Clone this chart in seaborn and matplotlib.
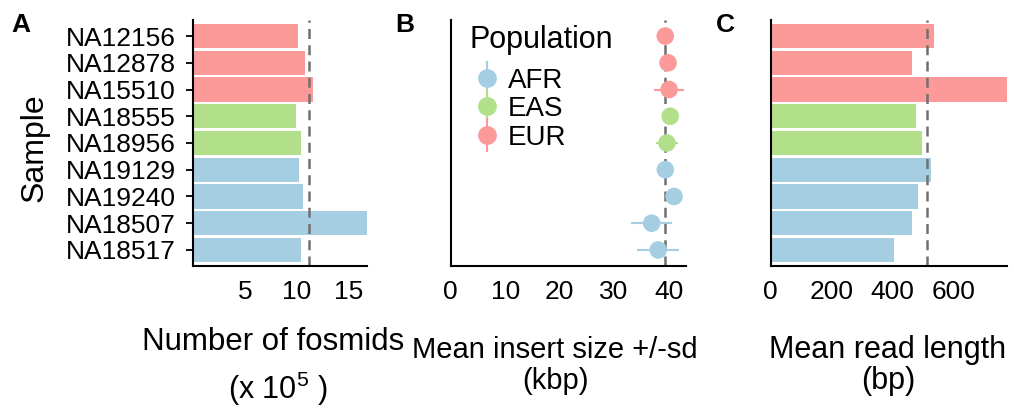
import numpy as np
import pandas as pd
import matplotlib
matplotlib.use("Agg")
import matplotlib.pyplot as plt
from matplotlib.lines import Line2D
import seaborn as sns

# ---- data -------------------------------------------------------------
samples = ["NA12156", "NA12878", "NA15510", "NA18555", "NA18956",
           "NA19129", "NA19240", "NA18507", "NA18517"]
population = ["EUR", "EUR", "EUR", "EAS", "EAS", "AFR", "AFR", "AFR", "AFR"]
fosmids_1e5 = [10.1, 10.8, 11.5, 9.9, 10.4, 10.25, 10.6, 16.7, 10.4]
insert_mean_kbp = [39.4, 39.9, 40.1, 40.3, 39.7, 39.4, 41.0, 36.9, 38.1]
insert_sd_kbp = [0.9, 0.8, 2.7, 1.0, 2.0, 0.9, 0.9, 3.8, 3.9]
read_len_bp = [536, 462, 774, 476, 495, 526, 482, 463, 404]

pop_order = ["AFR", "EAS", "EUR"]
pop_colors = {"AFR": "#A6CEE3", "EAS": "#B2DF8A", "EUR": "#FB9A99"}

df = pd.DataFrame({
    "Sample": samples,
    "Population": population,
    "fosmids": fosmids_1e5,
    "insert": insert_mean_kbp,
    "sd": insert_sd_kbp,
    "readlen": read_len_bp,
})
df["Sample"] = pd.Categorical(df["Sample"], categories=samples, ordered=True)

# ---- style ------------------------------------------------------------
sns.set_style("white")
plt.rcParams["font.family"] = ["Liberation Sans", "DejaVu Sans"]
plt.rcParams["mathtext.fontset"] = "custom"
plt.rcParams["mathtext.rm"] = "Liberation Sans"
plt.rcParams["mathtext.it"] = "Liberation Sans:italic"
plt.rcParams["text.color"] = "black"
plt.rcParams["axes.labelcolor"] = "black"

TICK_FS = 19
W, H = 1014, 408
fig = plt.figure(figsize=(W / 100, H / 100), dpi=100)


def px_axes(x0, x1, y0, y1):
    return fig.add_axes([x0 / W, 1 - y1 / H, (x1 - x0) / W, (y1 - y0) / H])


axA = px_axes(192.7, 366.7, 20, 266)
axB = px_axes(450.7, 686, 20, 266)
axC = px_axes(770.7, 1006.7, 20, 266)

n = len(samples)
DASH = dict(color="#707070", lw=1.8, ls=(0, (4, 2.5)))


def style_axes(ax):
    for s in ["top", "right"]:
        ax.spines[s].set_visible(False)
    for s in ["left", "bottom"]:
        ax.spines[s].set_linewidth(1.5)
        ax.spines[s].set_color("black")
    ax.tick_params(axis="x", direction="out", length=5, width=1.3,
                   labelsize=TICK_FS, pad=5, colors="black")
    ax.set_ylim(n - 1 + 0.6, -0.6)
    ax.set_xlabel("")
    ax.set_ylabel("")


# A: number of fosmids
sns.barplot(data=df, y="Sample", x="fosmids", hue="Population",
            palette=pop_colors, dodge=False, width=0.9, legend=False,
            saturation=1, ax=axA, linewidth=0)
axA.axvline(np.mean(fosmids_1e5), **DASH)
axA.set_xlim(0, max(fosmids_1e5))
axA.set_xticks([5, 10, 15])
style_axes(axA)
axA.tick_params(axis="y", direction="out", length=5, width=1.3,
                labelsize=TICK_FS, pad=7, colors="black", left=True)

# B: mean insert size +/- sd
y_pos = np.arange(n)
for yi, m, s, p in zip(y_pos, insert_mean_kbp, insert_sd_kbp, population):
    axB.hlines(yi, m - s, m + s, color=pop_colors[p], lw=1.5, zorder=2)
sns.scatterplot(data=df, x="insert", y="Sample", hue="Population",
                palette=pop_colors, s=160, linewidth=0, legend=False,
                ax=axB, zorder=3)
axB.axvline(np.mean(insert_mean_kbp), zorder=1, **DASH)
axB.set_xlim(0, 43.2)
axB.set_xticks([0, 10, 20, 30, 40])
style_axes(axB)
axB.set_yticks([])

handles = []
for p in pop_order:
    vline = Line2D([], [], color=pop_colors[p], marker="|", markersize=24,
                   markeredgewidth=1.5, linestyle="none")
    dot = Line2D([], [], color=pop_colors[p], marker="o", markersize=12.5,
                 linestyle="none")
    handles.append((vline, dot))
leg = axB.legend(handles, pop_order, loc="upper left",
                 bbox_to_anchor=((468 - 450.7) / 235.3, 1 - 42 / 246),
                 frameon=False, fontsize=20, handlelength=1.0,
                 handletextpad=0.22, labelspacing=0.09, borderaxespad=0.0,
                 borderpad=0.2)
fig.text(470 / W, 1 - 40 / H, "Population", fontsize=22,
         ha="left", va="center")

# C: mean read length
sns.barplot(data=df, y="Sample", x="readlen", hue="Population",
            palette=pop_colors, dodge=False, width=0.9, legend=False,
            saturation=1, ax=axC, linewidth=0)
axC.axvline(np.mean(read_len_bp), **DASH)
axC.set_xlim(0, max(read_len_bp))
axC.set_xticks([0, 200, 400, 600])
style_axes(axC)
axC.set_yticks([])

# axis titles
fig.text(35 / W, 1 - 148 / H, "Sample", rotation=90, fontsize=23,
         ha="center", va="center")
fig.text(273 / W, 1 - 342 / H, "Number of fosmids", fontsize=22.5,
         ha="center", va="center")
fig.text(278 / W, 1 - 389 / H, "(x 10$^5$ )", fontsize=22,
         ha="center", va="center")
fig.text(555 / W, 1 - 350 / H, "Mean insert size +/-sd", fontsize=21,
         ha="center", va="center")
fig.text(555 / W, 1 - 381 / H, "(kbp)", fontsize=21,
         ha="center", va="center")
fig.text(888 / W, 1 - 350 / H, "Mean read length", fontsize=22,
         ha="center", va="center")
fig.text(888 / W, 1 - 381 / H, "(bp)", fontsize=22,
         ha="center", va="center")

# panel letters
for lbl, xc in [("A", 21), ("B", 405), ("C", 725)]:
    fig.text(xc / W, 1 - 25 / H, lbl, fontsize=19, fontweight="bold",
             ha="center", va="center")

fig.savefig("out.png", dpi=100)
